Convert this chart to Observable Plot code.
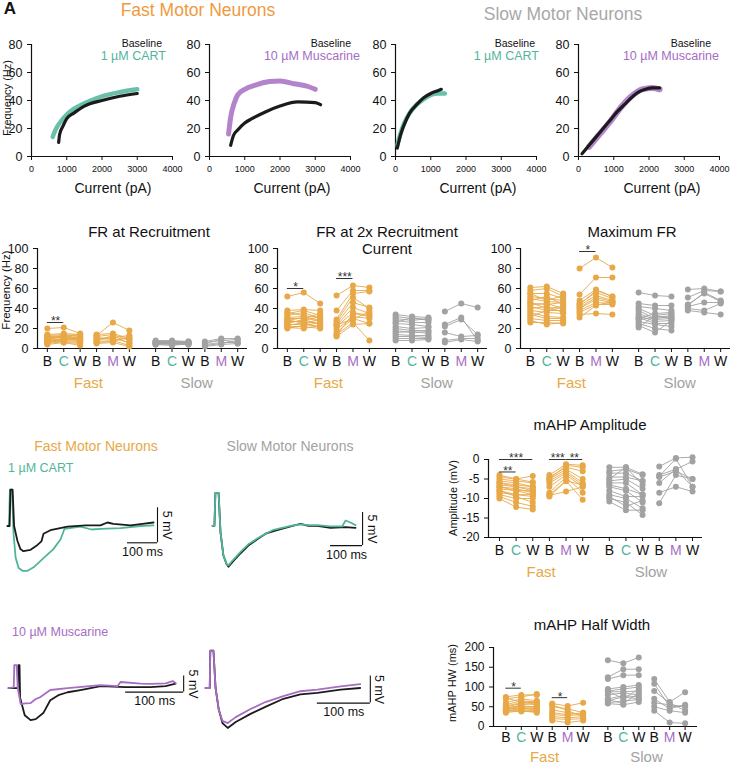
<!DOCTYPE html>
<html><head><meta charset="utf-8">
<script src="https://cdn.jsdelivr.net/npm/d3@7"></script>
<script src="https://cdn.jsdelivr.net/npm/@observablehq/plot@0.6"></script>
<style>
body{margin:0;background:#fff;}
#root{position:relative;width:737px;height:768px;overflow:hidden;font-family:"Liberation Sans",Arial,Helvetica,sans-serif;background:#fff;}
.t{position:absolute;white-space:nowrap;line-height:1.15;}
</style></head><body><div id="root"></div><script>
// ---------------- DATA ----------------
// Panel A: firing frequency (Hz) vs injected current (pA)
const currentTicks = [0, 1000, 2000, 3000, 4000];
const freqTicksA = [0, 20, 40, 60, 80];
const fastCartBaseline = [[770,10],[800,16],[900,22],[1000,27],[1200,31],[1500,36],[2000,40],[2500,43],[3000,45]];
const fastCartDrug = [[600,14],[700,20],[800,24],[1000,30],[1200,34],[1500,38],[2000,43],[2500,46],[3000,48]];
const fastMuscBaseline = [[600,8],[680,15],[800,19],[1000,24],[1200,27],[1600,32],[2000,36],[2500,39],[3000,38.5],[3150,37]];
const fastMuscDrug = [[540,16],[600,28],[700,38],[800,44],[1000,48],[1300,51],[1700,53.5],[2000,54],[2400,52],[2800,50],[3000,48]];
const slowCartBaseline = [[50,6],[150,16],[250,23],[400,31],[600,37],[800,42],[1000,45],[1200,47],[1300,48]];
const slowCartDrug = [[50,8],[150,17],[250,24],[400,31],[600,37],[800,41],[1000,44],[1200,45],[1400,45]];
const slowMuscBaseline = [[100,2],[300,8],[500,14],[700,20],[900,26],[1100,32],[1300,37],[1500,42],[1700,46],[1900,48],[2100,49],[2300,49]];
const slowMuscDrug = [[300,7],[600,16],[900,25],[1200,35],[1500,43],[1800,48],[2100,49],[2300,48]];

// Paired plots: categories
const cats = ["B","C","W","B","M","W","B","C","W","B","M","W"];
const groupNames = ["Fast","Slow"];
const freqTicksB = [0,20,40,60,80,100];
const ampTicks = [-20,-15,-10,-5,0];
const hwTicks = [0,50,100,150,200];

// FR at recruitment (Hz) [B, drug, W]
const recruitFastCart = [[20,21,15],[14,15,14],[13,14,12],[12,13,10],[11,12,13],[10,11,8],[9,12,10],[8,10,9],[7,9,8],[6,8,7],[5,7,6],[4,6,3],[8,6,5],[10,13,14],[6,10,12],[9,8,11],[12,11,9]];
const recruitFastMusc = [[14,15,10],[13,26,18],[12,14,8],[10,11,13],[9,10,6],[8,13,5],[7,8,3],[5,6,2],[11,9,10],[6,7,12]];
const recruitSlowCart = [[8,8,7],[7,7,6],[6,7,6],[6,6,5],[5,6,6],[5,5,4],[4,3,5],[7,6,7],[6,5,6],[5,4,5],[4,5,4]];
const recruitSlowMusc = [[7,10,10],[6,8,9],[5,9,5],[4,6,6],[3,5,8],[2,4,5]];
const recruitSig = [{a:0,b:1,y:26,label:"**"}];

// FR at 2x recruitment current (Hz)
const twoXFastCart = [[52,56,45],[38,39,38],[35,38,33],[33,36,30],[31,32,28],[30,30,35],[28,31,27],[27,27,25],[26,28,32],[25,29,24],[24,24,22],[23,26,21],[22,22,20],[21,20,23],[20,23,26],[29,25,29],[36,33,31]];
const twoXFastMusc = [[53,63,61],[38,58,58],[29,55,57],[27,51,40],[25,46,41],[23,41,35],[22,36,33],[19,32,30],[16,30,25],[14,26,8],[12,24,25],[24,29,37],[13,35,32]];
const twoXSlowCart = [[34,32,31],[32,30,29],[30,28,30],[28,26,26],[25,24,22],[22,20,21],[20,18,18],[18,16,17],[16,17,15],[14,13,13],[12,12,11],[10,10,10],[8,8,9],[26,31,28]];
const twoXSlowMusc = [[37,45,41],[24,31,8],[22,29,14],[16,12,13],[8,10,10],[6,9,7]];
const twoXSig = [{a:0,b:1,y:60,label:"*"},{a:3,b:4,y:70,label:"***"}];

// Maximum FR (Hz)
const maxFastCart = [[61,62,55],[58,60,52],[55,55,50],[52,50,48],[50,47,46],[48,52,44],[46,40,42],[44,45,40],[42,38,38],[40,42,36],[38,36,35],[36,32,31],[34,30,30],[30,28,28],[28,24,26],[26,26,25],[32,38,41],[55,48,53],[45,44,46]];
const maxFastMusc = [[80,91,81],[54,71,71],[48,59,52],[45,56,50],[43,53,48],[41,51,47],[40,49,46],[38,46,45],[36,44,44],[34,35,34],[31,43,47],[44,58,52]];
const maxSlowCart = [[56,53,52],[45,43,43],[42,40,38],[40,33,35],[38,30,32],[35,29,30],[33,27,28],[31,25,25],[29,31,33],[27,24,22],[25,20,18],[23,16,28],[21,33,30],[30,35,36]];
const maxSlowMusc = [[59,60,57],[51,58,57],[44,55,47],[42,46,46],[40,38,45],[38,36,34],[43,56,48]];
const maxSig = [{a:3,b:4,y:97,label:"*"}];

// mAHP amplitude (mV)
const ampFastCart = [[-4,-5,-4.2],[-4.5,-5,-5.8],[-5,-5.5,-6],[-5.5,-6,-7],[-6,-6.5,-7],[-6,-7,-8],[-6.5,-7,-7.5],[-7,-7.5,-8.5],[-7,-8,-8],[-7.5,-8,-9],[-8,-9,-9],[-8,-9.5,-11],[-8.5,-9,-9.5],[-9,-10,-10],[-9.5,-11,-12],[-10,-12.2,-12.8]];
const ampFastMusc = [[-4,-1.2,-1.5],[-4.5,-2,-3],[-5,-2.5,-5],[-5.5,-3,-6],[-6,-3.5,-6.5],[-7,-4,-7],[-8.5,-4.5,-8.5],[-9,-5.5,-6.5],[-9.5,-5.5,-10.3],[-9.2,-8.2,-7],[-5,-1.5,-2]];
const ampSlowCart = [[-2,-2,-3.8],[-3,-2.5,-4],[-3.5,-3.5,-5.5],[-4.5,-4.5,-5.5],[-5.5,-5,-7.5],[-6,-6,-9],[-6.5,-7.5,-9],[-7,-8,-11],[-8,-9.5,-9.5],[-9,-10,-12.5],[-10,-11,-14.2],[-10.8,-13,-13],[-9.5,-12,-10.5],[-5,-2,-6.5]];
const ampSlowMusc = [[-1.8,0.4,0.6],[-4,-2.5,-0.5],[-4.5,-3,-5],[-6,-2.5,-7],[-8.5,-7,-8.2],[-11.2,-4,-5],[-4.3,0.2,-7]];
const ampSig = [{a:0,b:1,y:-3.2,label:"**"},{a:0,b:2,y:0,label:"***"},{a:3,b:4,y:0,label:"***"},{a:4,b:5,y:0,label:"**"}];

// mAHP half width (ms)
const hwFastCart = [[35,40,35],[38,42,40],[40,45,42],[42,48,45],[45,50,50],[45,55,60],[48,52,50],[50,58,55],[52,60,62],[55,65,62],[60,70,65],[70,75,82],[75,80,80],[40,38,38],[44,45,48],[72,62,60]];
const hwFastMusc = [[15,10,15],[20,18,20],[25,22,25],[30,28,30],[35,30,35],[42,35,30],[50,45,35],[58,52,60],[55,40,25]];
const hwSlowCart = [[168,160,175],[125,145,145],[120,130,130],[95,100,105],[90,95,100],[88,88,90],[80,85,80],[70,78,75],[65,75,70],[60,65,68],[58,55,62],[68,58,85],[90,70,95]];
const hwSlowMusc = [[120,62,87],[108,50,52],[90,60,40],[70,45,55],[50,40,35],[40,10,8],[60,55,50]];
const hwSig = [{a:0,b:1,y:97,label:"*"},{a:3,b:4,y:73,label:"*"}];

// Panel C: membrane potential traces [time ms, mV relative to baseline]
const traceFastCartBase = [[0,0],[7,0],[10,5.2],[17,5.2],[22,0],[33,-2.1],[43,-3.3],[53,-3.6],[77,-3.4],[100,-2.7],[113,-2.2],[120,-1.1],[143,-0.6],[200,-0.1],[260,0.1],[310,0.1],[333,0.5],[353,0.3],[410,0.1],[450,0.3],[487,0.5]];
const traceFastCartDrug = [[0,0],[5,0],[8,5.2],[15,5.2],[20,-1],[27,-4.5],[37,-6],[50,-6.4],[67,-6.4],[87,-5.9],[120,-4.6],[153,-3.3],[177,-1.9],[190,-0.4],[243,-0.1],[280,-0.5],[310,-0.4],[377,-0.3],[443,0],[487,0.1]];
const traceSlowCartBase = [[0,0],[6,0],[9,5],[19,5],[25,-1],[34,-4.5],[44,-5.8],[50,-6.2],[62,-5.5],[87,-4.2],[112,-3],[141,-2],[166,-1.2],[191,-0.8],[244,-0.1],[275,0.3],[300,0],[328,0],[369,-0.3],[416,-0.2],[447,-0.3]];
const traceSlowCartDrug = [[0,0],[6,0],[9,5],[19,5],[25,-1],[34,-4.5],[44,-5.8],[50,-6.0],[62,-5.3],[87,-4.0],[112,-2.8],[141,-1.9],[166,-1.2],[191,-0.6],[244,0],[275,0.2],[300,0.1],[328,0.1],[369,-0.1],[405,-0.1],[416,0.8],[431,0.5],[447,0.1]];
const traceFastMuscBase = [[0,0],[16,0],[17,7.2],[19,7.2],[20,-3],[28,-8.5],[38,-10],[47,-9.7],[60,-7.8],[72,-3.8],[86,-2.2],[102,-1.3],[124,-0.6],[159,0.6],[202,0.3],[245,0.3],[271,0.6],[288,1.4]];
const traceFastMuscDrug = [[0,0],[9,0.2],[10,7.2],[14,7.2],[16,0],[21,-5],[29,-4.8],[38,-4.7],[47,-3.4],[55,-2.8],[72,-0.6],[102,0],[159,0.9],[188,0.6],[193,1.9],[228,1.4],[245,1.3],[271,1.5],[283,2.2],[288,1.6]];
const traceSlowMuscBase = [[0,0],[8,0],[9,6.9],[15,6.9],[19,0],[25,-4],[32,-6.5],[42,-7.4],[57,-6.3],[85,-4.8],[113,-3.5],[147,-2.0],[179,-1.2],[211,-0.9],[255,-0.3],[292,0]];
const traceSlowMuscDrug = [[0,0],[8,0],[9,6.9],[15,6.9],[19,0],[25,-4],[32,-6.1],[42,-6.5],[57,-5.4],[85,-3.9],[113,-2.6],[147,-1.5],[179,-0.6],[211,-0.3],[255,0.3],[292,0.7]];
const scaleBarMs = 100, scaleBarMv = 5;

// ---------------- STYLE / LAYOUT ----------------
const FONT = '"Liberation Sans", Arial, Helvetica, sans-serif';
const ORANGE = "#E8A847", TITLE_ORANGE = "#EF9A3E", GREY = "#A2A2A2", TEAL = "#4FB59B", PURPLE = "#A66DC3", BLACK = "#1b1b1b";
const catColor = {B: "#111", W: "#111", C: TEAL, M: PURPLE};
const xPos = [0,1,2,3,4,5,6.6,7.6,8.6,9.6,10.6,11.6];
const root = document.getElementById("root");

function txt(s, x, y, o = {}) {
  const {size = 12, color = "#111", anchor = "middle", rotate = 0, weight = "normal"} = o;
  const d = document.createElement("div");
  d.className = "t";
  d.textContent = s;
  d.style.left = x + "px"; d.style.top = y + "px";
  d.style.fontSize = size + "px"; d.style.color = color; d.style.fontWeight = weight;
  const tx = anchor === "middle" ? "-50%" : anchor === "end" ? "-100%" : "0";
  d.style.transform = `translate(${tx},-50%) rotate(${rotate}deg)`;
  root.append(d);
}
function put(svg, left, top) {
  svg.style.position = "absolute";
  svg.style.left = left + "px";
  svg.style.top = top + "px";
  root.append(svg);
}
function axisFont(svg, axis, size) {
  svg.querySelectorAll(`[aria-label^="${axis}-axis"] text`).forEach(t => { t.style.fontSize = size + "px"; });
}
const baseStyle = {fontFamily: FONT, fontSize: "12px", color: "#111", background: "none", overflow: "visible"};

// ---------------- PANEL A ----------------
function fiPanel(left, base, drug, drugColor, drugWidth) {
  const acc = {x: d => d[0], y: d => d[1]};
  const svg = Plot.plot({
    width: 180, height: 166, marginLeft: 31, marginRight: 8, marginTop: 14, marginBottom: 40,
    style: baseStyle,
    x: {domain: [0, 4000], ticks: currentTicks, tickSize: 4, tickFormat: d => String(d), label: null},
    y: {domain: [0, 80], ticks: freqTicksA, tickSize: 4, tickFormat: d => String(d), label: null},
    marks: [
      Plot.ruleX([0], {stroke: "#111", strokeWidth: 1.2}),
      Plot.ruleY([0], {stroke: "#111", strokeWidth: 1.2}),
      Plot.line(drug, {...acc, stroke: drugColor, strokeWidth: drugWidth, strokeOpacity: 0.85, curve: "monotone-x"}),
      Plot.line(base, {...acc, stroke: BLACK, strokeWidth: 3.2, curve: "monotone-x"})
    ]
  });
  axisFont(svg, "x", 9);
  axisFont(svg, "y", 12.5);
  put(svg, left, 30);
}
fiPanel(0, fastCartBaseline, fastCartDrug, TEAL, 4.5);
fiPanel(178, fastMuscBaseline, fastMuscDrug, PURPLE, 5);
fiPanel(364, slowCartBaseline, slowCartDrug, TEAL, 4.5);
fiPanel(547, slowMuscBaseline, slowMuscDrug, PURPLE, 6);

txt("A", 10, 9, {size: 17, weight: "bold"});
txt("Fast Motor Neurons", 198, 10, {size: 17.5, color: TITLE_ORANGE});
txt("Slow Motor Neurons", 563, 14, {size: 17.5, color: "#A8A8A8"});
[[162,166,"1 µM CART",TEAL],[351,360,"10 µM Muscarine",PURPLE],[535,539,"1 µM CART",TEAL],[711,719,"10 µM Muscarine",PURPLE]].forEach(([bx, dx, s, c]) => {
  txt("Baseline", bx, 43, {size: 10.5, anchor: "end"});
  txt(s, dx, 56, {size: 12.5, color: c, anchor: "end"});
});
[113, 292, 478, 662].forEach(x => txt("Current (pA)", x, 188, {size: 14}));
txt("Frequency (Hz)", 7, 98, {size: 11, rotate: -90});

// ---------------- PAIRED PLOTS ----------------
function paired(o) {
  const {left, top, marginLeft, plotW, plotH, yDomain, yTicks, xDomain, groups, sig, catDy, groupDy, ySize} = o;
  const rows = [];
  groups.forEach((g, gi) => g.forEach((trip, i) => trip.forEach((v, j) =>
    rows.push({x: xPos[gi * 3 + j], y: v, id: gi + "-" + i, c: gi < 2 ? ORANGE : GREY}))));
  const catRows = cats.map((c, k) => ({x: xPos[k], text: c, c: catColor[c]}));
  const grpRows = groupNames.map((n, k) => ({x: d3.mean(xPos.slice(k * 6, k * 6 + 6)), text: n, c: k === 0 ? ORANGE : GREY}));
  const sigRows = sig.map(s => ({x1: xPos[s.a], x2: xPos[s.b], xm: (xPos[s.a] + xPos[s.b]) / 2, y: s.y, text: s.label}));
  const y0 = () => yDomain[0];
  const svg = Plot.plot({
    width: marginLeft + plotW + 5, height: 8 + plotH + 48,
    marginLeft, marginRight: 5, marginTop: 8, marginBottom: 48,
    style: baseStyle,
    color: {type: "identity"},
    x: {domain: xDomain, ticks: xPos, tickSize: 4, tickFormat: () => "", label: null},
    y: {domain: yDomain, ticks: yTicks, tickSize: 4, tickFormat: d => String(d), label: null},
    marks: [
      Plot.ruleX([xDomain[0]], {stroke: "#111", strokeWidth: 1.2}),
      Plot.ruleY([yDomain[0]], {stroke: "#111", strokeWidth: 1.2}),
      Plot.line(rows, {x: "x", y: "y", z: "id", stroke: "c", strokeWidth: 0.9}),
      Plot.dot(rows, {x: "x", y: "y", fill: "c", r: 3}),
      Plot.ruleY(sigRows, {y: "y", x1: "x1", x2: "x2", stroke: "#333", strokeWidth: 1}),
      Plot.text(sigRows, {x: "xm", y: "y", text: "text", dy: -1, fontSize: 12, fill: "#333"}),
      Plot.text(catRows, {x: "x", y: y0, text: "text", fill: "c", dy: catDy, fontSize: 14}),
      Plot.text(grpRows, {x: "x", y: y0, text: "text", fill: "c", dy: groupDy, fontSize: 15})
    ]
  });
  axisFont(svg, "y", ySize);
  put(svg, left, top);
}
const bCommon = {top: 240, marginLeft: 37, plotW: 210, plotH: 100, yDomain: [0, 100], yTicks: freqTicksB, xDomain: [-0.6, 12.2], catDy: 13, groupDy: 35, ySize: 12.5};
paired({...bCommon, left: 0, groups: [recruitFastCart, recruitFastMusc, recruitSlowCart, recruitSlowMusc], sig: recruitSig});
paired({...bCommon, left: 240, groups: [twoXFastCart, twoXFastMusc, twoXSlowCart, twoXSlowMusc], sig: twoXSig});
paired({...bCommon, left: 483, groups: [maxFastCart, maxFastMusc, maxSlowCart, maxSlowMusc], sig: maxSig});
txt("FR at Recruitment", 149, 232, {size: 15});
txt("FR at 2x Recruitment", 387, 232, {size: 15});
txt("Current", 387, 249, {size: 15});
txt("Maximum FR", 632, 232, {size: 15});
txt("Frequency (Hz)", 7, 290, {size: 11.5, rotate: -90});

paired({left: 450, top: 451, marginLeft: 38, plotW: 214, plotH: 78, yDomain: [-20, 0], yTicks: ampTicks, xDomain: [-0.66, 12.2], catDy: 13, groupDy: 35, ySize: 12,
  groups: [ampFastCart, ampFastMusc, ampSlowCart, ampSlowMusc], sig: ampSig});
paired({left: 455, top: 639, marginLeft: 38, plotW: 204, plotH: 79, yDomain: [0, 200], yTicks: hwTicks, xDomain: [-0.8, 12.4], catDy: 11, groupDy: 31, ySize: 12,
  groups: [hwFastCart, hwFastMusc, hwSlowCart, hwSlowMusc], sig: hwSig});
txt("mAHP Amplitude", 590, 425, {size: 15});
txt("mAHP Half Width", 592, 625, {size: 15});
txt("Amplitude (mV)", 453, 498, {size: 11, rotate: -90});
txt("mAHP HW (ms)", 452, 683, {size: 11, rotate: -90});

// ---------------- PANEL C ----------------
function tracePanel(o) {
  const {ox, oy, pxMs, pxMv, tEnd, vDomain, vBot, traces} = o;
  const mL = 5, mR = 26, mT = 5, mB = 22;
  const plotW = tEnd * pxMs, plotH = (vDomain[1] - vDomain[0]) * pxMv;
  const hBar = [{v: vBot, t1: tEnd - scaleBarMs, t2: tEnd}];
  const vBar = [{t: tEnd, v1: vBot, v2: vBot + scaleBarMv}];
  const acc = {x: d => d[0], y: d => d[1]};
  const svg = Plot.plot({
    width: plotW + mL + mR, height: plotH + mT + mB,
    marginLeft: mL, marginRight: mR, marginTop: mT, marginBottom: mB,
    style: baseStyle,
    x: {domain: [0, tEnd], axis: null},
    y: {domain: vDomain, axis: null},
    marks: [
      ...traces.map(([data, color]) => Plot.line(data, {...acc, stroke: color, strokeWidth: 1.8, curve: "linear"})),
      Plot.ruleY(hBar, {y: "v", x1: "t1", x2: "t2", stroke: "#111", strokeWidth: 1.1}),
      Plot.ruleX(vBar, {x: "t", y1: "v1", y2: "v2", stroke: "#111", strokeWidth: 1.1}),
      Plot.text(hBar, {x: d => (d.t1 + d.t2) / 2, y: "v", text: () => scaleBarMs + " ms", dy: 9, fontSize: 12.5, fill: "#111"}),
      Plot.text(vBar, {x: "t", y: d => (d.v1 + d.v2) / 2, text: () => scaleBarMv + " mV", rotate: 90, dx: 9, fontSize: 12.5, fill: "#111"})
    ]
  });
  put(svg, ox - mL, oy - vDomain[1] * pxMv - mT);
}
tracePanel({ox: 7, oy: 525, pxMs: 0.3, pxMv: 7, tEnd: 500, vDomain: [-7, 5.5], vBot: -2.4,
  traces: [[traceFastCartDrug, TEAL], [traceFastCartBase, BLACK]]});
tracePanel({ox: 212, oy: 525, pxMs: 0.32, pxMv: 6.6, tEnd: 469, vDomain: [-7, 5.5], vBot: -3,
  traces: [[traceSlowCartBase, BLACK], [traceSlowCartDrug, TEAL]]});
tracePanel({ox: 8, oy: 688, pxMs: 0.58, pxMv: 3.2, tEnd: 302, vDomain: [-11, 8], vBot: -1.25,
  traces: [[traceFastMuscBase, BLACK], [traceFastMuscDrug, PURPLE]]});
tracePanel({ox: 205, oy: 687, pxMs: 0.53, pxMv: 5.4, tEnd: 311, vDomain: [-8.5, 7.5], vBot: -2.8,
  traces: [[traceSlowMuscBase, BLACK], [traceSlowMuscDrug, PURPLE]]});
txt("Fast Motor Neurons", 96, 446, {size: 14, color: ORANGE});
txt("Slow Motor Neurons", 290, 446, {size: 14, color: GREY});
txt("1 µM CART", 8, 468, {size: 12.5, color: TEAL, anchor: "start"});
txt("10 µM Muscarine", 12, 632, {size: 12.5, color: PURPLE, anchor: "start"});
</script></body></html>
